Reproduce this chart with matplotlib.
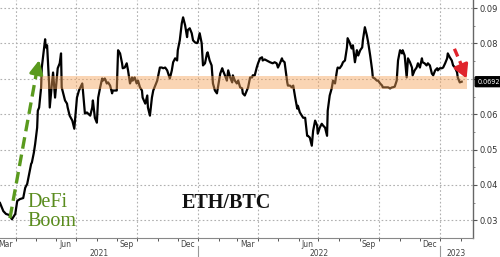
import numpy as np
import pandas as pd
import matplotlib
matplotlib.use("Agg")
import matplotlib.pyplot as plt
import matplotlib.dates as mdates

# ETH/BTC ratio, days counted from the first point
start = pd.Timestamp("2021-03-08")
days = [0, 5, 9, 14, 18, 23, 26, 30, 35, 38, 41, 44, 47, 48, 51, 53, 56, 57, 59, 60,
        62, 63, 66, 68, 69, 71, 72, 74, 75, 78, 80, 83, 87, 90, 92, 93, 95, 98, 101, 102,
        105, 109, 112, 116, 119, 124, 125, 128, 131, 136, 139, 140, 143, 146, 148, 151, 154, 155, 158, 161,
        163, 166, 169, 170, 176, 178, 181, 184, 185, 188, 191, 193, 196, 199, 200, 203, 206, 208, 211, 214,
        215, 219, 222, 223, 226, 229, 231, 234, 237, 238, 241, 244, 246, 249, 252, 253, 256, 259, 261, 264,
        267, 268, 271, 274, 276, 279, 282, 283, 286, 289, 291, 294, 297, 298, 301, 304, 306, 309, 312, 313,
        316, 319, 321, 324, 327, 329, 332, 335, 336, 339, 342, 344, 347, 350, 351, 354, 357, 359, 362, 365,
        366, 369, 372, 374, 377, 380, 381, 384, 387, 389, 392, 395, 396, 399, 402, 407, 411, 414, 417, 419,
        422, 425, 426, 429, 433, 434, 437, 440, 442, 445, 448, 449, 452, 455, 457, 460, 463, 464, 467, 470,
        472, 475, 478, 479, 482, 485, 487, 490, 493, 494, 497, 500, 502, 505, 508, 509, 512, 515, 517, 520,
        523, 524, 527, 530, 532, 535, 538, 540, 543, 546, 547, 550, 553, 555, 558, 561, 562, 565, 568, 570,
        573, 576, 577, 580, 585, 588, 591, 592, 595, 598, 600, 603, 606, 607, 610, 613, 615, 618, 621, 622,
        625, 628, 630, 633, 636, 637, 640, 643, 645, 648, 651, 653, 656, 659, 660, 663, 666, 668, 671, 674,
        675, 678, 681, 683, 686, 689, 690, 693, 696]
ratio = [0.0349, 0.0326, 0.0318, 0.0315, 0.0303, 0.0318, 0.0355, 0.0360, 0.0363, 0.0392, 0.0403, 0.0431, 0.0460, 0.0463, 0.0491, 0.0516, 0.0562, 0.0610, 0.0619, 0.0639,
         0.0676, 0.0732, 0.0781, 0.0812, 0.0789, 0.0795, 0.0758, 0.0687, 0.0619, 0.0681, 0.0718, 0.0647, 0.0730, 0.0744, 0.0772, 0.0676, 0.0661, 0.0639, 0.0630, 0.0619,
         0.0596, 0.0582, 0.0559, 0.0647, 0.0667, 0.0687, 0.0667, 0.0602, 0.0605, 0.0596, 0.0619, 0.0639, 0.0590, 0.0576, 0.0647, 0.0676, 0.0701, 0.0695, 0.0701, 0.0687,
         0.0690, 0.0681, 0.0659, 0.0667, 0.0667, 0.0781, 0.0772, 0.0744, 0.0730, 0.0732, 0.0744, 0.0724, 0.0687, 0.0704, 0.0695, 0.0704, 0.0687, 0.0695, 0.0676, 0.0667,
         0.0647, 0.0630, 0.0653, 0.0619, 0.0596, 0.0647, 0.0667, 0.0681, 0.0695, 0.0704, 0.0732, 0.0732, 0.0730, 0.0732, 0.0724, 0.0718, 0.0701, 0.0724, 0.0747, 0.0758,
         0.0752, 0.0781, 0.0809, 0.0857, 0.0874, 0.0852, 0.0818, 0.0838, 0.0843, 0.0829, 0.0809, 0.0803, 0.0801, 0.0803, 0.0829, 0.0801, 0.0738, 0.0744, 0.0772, 0.0775,
         0.0752, 0.0738, 0.0687, 0.0667, 0.0659, 0.0681, 0.0715, 0.0730, 0.0724, 0.0710, 0.0695, 0.0724, 0.0704, 0.0690, 0.0710, 0.0695, 0.0687, 0.0695, 0.0676, 0.0673,
         0.0659, 0.0653, 0.0667, 0.0676, 0.0704, 0.0704, 0.0710, 0.0710, 0.0732, 0.0744, 0.0758, 0.0761, 0.0752, 0.0755, 0.0752, 0.0747, 0.0744, 0.0747, 0.0744, 0.0732,
         0.0744, 0.0758, 0.0752, 0.0747, 0.0690, 0.0681, 0.0681, 0.0676, 0.0681, 0.0647, 0.0616, 0.0624, 0.0605, 0.0596, 0.0590, 0.0590, 0.0539, 0.0539, 0.0534, 0.0511,
         0.0553, 0.0582, 0.0568, 0.0545, 0.0562, 0.0573, 0.0568, 0.0562, 0.0539, 0.0610, 0.0653, 0.0673, 0.0695, 0.0687, 0.0724, 0.0732, 0.0730, 0.0738, 0.0747, 0.0752,
         0.0789, 0.0815, 0.0803, 0.0786, 0.0795, 0.0747, 0.0781, 0.0766, 0.0781, 0.0789, 0.0809, 0.0846, 0.0823, 0.0803, 0.0766, 0.0724, 0.0704, 0.0701, 0.0695, 0.0695,
         0.0687, 0.0681, 0.0676, 0.0676, 0.0676, 0.0673, 0.0676, 0.0676, 0.0678, 0.0695, 0.0752, 0.0781, 0.0772, 0.0781, 0.0766, 0.0704, 0.0758, 0.0747, 0.0732, 0.0710,
         0.0724, 0.0732, 0.0744, 0.0732, 0.0758, 0.0747, 0.0744, 0.0738, 0.0744, 0.0738, 0.0715, 0.0710, 0.0724, 0.0730, 0.0724, 0.0730, 0.0730, 0.0732, 0.0744, 0.0758,
         0.0772, 0.0761, 0.0752, 0.0738, 0.0732, 0.0718, 0.0704, 0.0690, 0.0692]
last_value = 0.0692

# shaded range
band_low, band_high = 0.0670, 0.0707
band_start, band_end = pd.Timestamp("2021-05-07"), pd.Timestamp("2023-02-10")

yticks = [0.03, 0.04, 0.05, 0.06, 0.07, 0.08, 0.09]
month_labels = ["Mar", "Jun", "Sep", "Dec", "Mar", "Jun", "Sep", "Dec"]
month_dates = ["2021-03-16", "2021-06-15", "2021-09-15", "2021-12-16",
               "2022-03-16", "2022-06-15", "2022-09-15", "2022-12-16"]
years = ["2021", "2022", "2023"]
year_dates = ["2021-08-04", "2022-07-02", "2023-01-25"]

dates = start + pd.to_timedelta(days, unit="D")
x_end = start + pd.Timedelta(days=713)

fig = plt.figure(figsize=(5, 2.57), dpi=100)
ax = fig.add_axes([0, 1 - 238 / 257, 473 / 500, 238 / 257])

ax.plot(dates, ratio, color="black", lw=1.6, zorder=3)
ax.fill_between([band_start, band_end], band_low, band_high,
                color="#f5a35a", alpha=0.45, lw=0, zorder=4)

ax.set_xlim(start, x_end)
ax.set_ylim(0.0250, 0.0923)

# grid
for v in yticks:
    ax.axhline(v, color="#b0b0b0", lw=0.8, ls=(0, (1.5, 2)), zorder=1)
for d in pd.date_range("2021-04-01", "2023-01-01", freq="3MS"):
    ax.axvline(d, color="#b0b0b0", lw=0.8, ls=(0, (1.5, 2)), zorder=1)

# y axis on the right (0.07 sits under the last value tag)
ax.yaxis.tick_right()
ax.set_yticks(yticks)
ax.set_yticklabels(["" if v == 0.07 else "%.2f" % v for v in yticks])
ax.set_yticks([0.035, 0.045, 0.055, 0.065, 0.075, 0.085], minor=True)
ax.tick_params(axis="y", which="major", length=3, width=0.8, pad=1.5,
               labelsize=6, labelcolor="#333333", color="#555555")
ax.tick_params(axis="y", which="minor", length=1.5, width=0.6, color="#777777")

# x axis: monthly ticks, labels placed in mid month
ax.xaxis.set_major_locator(mdates.MonthLocator())
ax.xaxis.set_major_formatter(plt.NullFormatter())
ax.tick_params(axis="x", which="major", length=2.5, width=0.7, color="#555555")
for lab, d in zip(month_labels, month_dates):
    ax.annotate(lab, xy=(pd.Timestamp(d), 0), xycoords=("data", "axes fraction"),
                xytext=(0, -1.5), textcoords="offset points", ha="center", va="top",
                fontsize=5.5, color="#444444", annotation_clip=False)
for lab, d in zip(years, year_dates):
    ax.annotate(lab, xy=(pd.Timestamp(d), 0), xycoords=("data", "axes fraction"),
                xytext=(0, -8), textcoords="offset points", ha="center", va="top",
                fontsize=5.5, color="#444444", annotation_clip=False)
for d in ["2022-01-01", "2023-01-01"]:
    ax.plot([pd.Timestamp(d)] * 2, [-0.035, -0.09], color="#999999", lw=0.8,
            transform=ax.get_xaxis_transform(), clip_on=False)

for s in ["top", "left"]:
    ax.spines[s].set_visible(False)
ax.spines["right"].set_color("#666666")
ax.spines["bottom"].set_color("#888888")
ax.spines["right"].set_linewidth(1.0)
ax.spines["bottom"].set_linewidth(0.8)

# last value tag
ax.annotate("%.4f" % last_value, xy=(1, last_value), xycoords=("axes fraction", "data"),
            xytext=(3, 0), textcoords="offset points", ha="left", va="center",
            fontsize=4.7, color="white", annotation_clip=False, zorder=10,
            bbox=dict(boxstyle="round,pad=0.3,rounding_size=0.15", fc="black", ec="black"))

# arrows
green = "#5a9a1e"
g_tail = (pd.Timestamp("2021-03-23"), 0.0306)
g_tip = (pd.Timestamp("2021-05-07"), 0.0761)
ax.annotate("", xy=g_tip, xytext=(pd.Timestamp("2021-05-03"), 0.0725),
            arrowprops=dict(arrowstyle="-|>,head_length=0.8,head_width=0.4",
                            color=green, lw=2.2), zorder=5)
ax.plot([g_tail[0], pd.Timestamp("2021-05-03")], [g_tail[1], 0.0728], color=green,
        lw=2.4, ls=(0, (3.5, 1.8)), zorder=5)

red = "#e0242c"
r_tail = (pd.Timestamp("2023-01-22"), 0.0785)
ax.annotate("", xy=(pd.Timestamp("2023-02-11"), 0.0694),
            xytext=(pd.Timestamp("2023-02-04"), 0.0724),
            arrowprops=dict(arrowstyle="-|>,head_length=0.8,head_width=0.45",
                            color=red, lw=2.2), zorder=5)
ax.plot([r_tail[0], pd.Timestamp("2023-02-05")], [r_tail[1], 0.0724], color=red,
        lw=2.4, ls=(0, (2.5, 1.5)), zorder=5)

# texts
fig.text(27 / 500, 1 - 193 / 257, "DeFi\nBoom", ha="left", va="top",
         fontsize=14.5, color="#5a8c1e", family="Liberation Serif", linespacing=1.0)
fig.text(226 / 500, 1 - 203 / 257, "ETH/BTC", ha="center", va="center",
         fontsize=14.5, color="#111111", family="Liberation Serif", fontweight="bold")

fig.savefig("out.png", dpi=100)
